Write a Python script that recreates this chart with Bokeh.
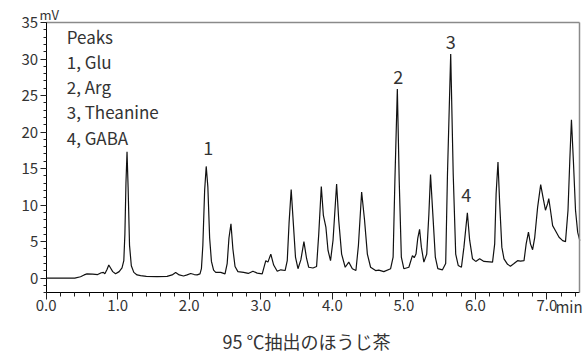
from bokeh.plotting import figure
from bokeh.models import Range1d, FixedTicker, Label, ColumnDataSource, LinearAxis
from bokeh.core.properties import value
from bokeh.embed import file_html
from bokeh.resources import INLINE

FONT = "Noto Sans CJK JP"
TEXT = "#333333"

# chromatogram trace (time in min, signal in mV)
time_min = [
    0.00, 0.40, 0.48, 0.53, 0.57, 0.65, 0.72, 0.77, 0.80, 0.82, 0.85, 0.875, 0.90, 0.93, 0.97,
    1.02, 1.06, 1.085, 1.10, 1.115, 1.13, 1.145, 1.165, 1.19, 1.225, 1.27, 1.32, 1.40, 1.55,
    1.69, 1.76, 1.81, 1.86, 1.92, 1.97, 2.02, 2.07, 2.11, 2.15, 2.17, 2.19, 2.215, 2.237, 2.26,
    2.285, 2.31, 2.34, 2.37, 2.44, 2.50, 2.53, 2.555, 2.583, 2.61, 2.64, 2.68, 2.76, 2.825, 2.89,
    2.95, 3.02, 3.07, 3.10, 3.14, 3.18, 3.23, 3.28, 3.34, 3.37, 3.395, 3.425, 3.455, 3.485, 3.52,
    3.56, 3.603, 3.64, 3.67, 3.73, 3.78, 3.81, 3.846, 3.875, 3.91, 3.94, 3.975, 4.01, 4.06, 4.09,
    4.13, 4.18, 4.23, 4.28, 4.33, 4.365, 4.41, 4.45, 4.49, 4.535, 4.605, 4.65, 4.72, 4.815, 4.85,
    4.875, 4.909, 4.935, 4.965, 5.00, 5.07, 5.12, 5.145, 5.17, 5.195, 5.22, 5.245, 5.28, 5.32,
    5.35, 5.373, 5.405, 5.44, 5.475, 5.54, 5.585, 5.61, 5.655, 5.69, 5.725, 5.76, 5.805, 5.84,
    5.888, 5.92, 5.96, 6.005, 6.06, 6.12, 6.24, 6.27, 6.29, 6.316, 6.34, 6.37, 6.40, 6.45, 6.49,
    6.54, 6.59, 6.63, 6.68, 6.71, 6.742, 6.77, 6.80, 6.83, 6.87, 6.913, 6.945, 6.98, 7.01, 7.026,
    7.05, 7.08, 7.12, 7.17, 7.22, 7.26, 7.295, 7.32, 7.343, 7.37, 7.40, 7.43, 7.46,
]
signal_mv = [
    0.0, 0.0, 0.2, 0.45, 0.6, 0.55, 0.5, 0.75, 0.8, 0.6, 1.2, 1.8, 1.4, 0.9, 0.6,
    0.9, 1.4, 2.4, 6.0, 13.0, 17.3, 12.5, 4.5, 1.7, 0.8, 0.45, 0.35, 0.25, 0.22,
    0.25, 0.45, 0.78, 0.45, 0.3, 0.45, 0.65, 0.5, 0.45, 0.6, 1.3, 4.5, 12.0, 15.3, 12.5,
    5.5, 2.3, 1.1, 0.8, 0.8, 0.6, 2.0, 5.5, 7.45, 4.0, 1.6, 0.9, 0.8, 0.65, 0.95,
    0.7, 0.6, 2.4, 2.2, 3.3, 1.8, 0.95, 1.15, 1.05, 2.4, 7.5, 12.15, 7.5, 2.9, 1.3,
    2.5, 5.0, 2.7, 1.5, 1.4, 1.6, 6.0, 12.55, 8.6, 7.0, 3.8, 2.4, 5.2, 12.9, 7.9,
    3.3, 1.5, 2.2, 1.3, 1.05, 4.5, 11.8, 8.0, 3.3, 1.5, 1.05, 1.1, 0.9, 1.3, 2.9,
    13.4, 25.9, 13.4, 2.9, 1.3, 1.5, 3.1, 2.8, 3.3, 5.5, 6.7, 4.25, 2.2, 3.3,
    8.8, 14.2, 8.8, 2.9, 1.3, 1.15, 2.0, 14.3, 30.7, 14.3, 3.3, 1.75, 1.5, 4.25,
    8.95, 5.2, 2.65, 2.3, 2.65, 2.3, 2.2, 4.7, 11.6, 15.9, 10.2, 4.25, 2.65, 1.9, 1.65,
    2.0, 2.4, 2.35, 2.4, 4.7, 6.3, 4.7, 3.9, 5.6, 9.7, 12.8, 11.1, 9.3, 10.2, 10.9,
    9.3, 7.2, 6.5, 5.6, 5.15, 5.0, 9.3, 16.1, 21.7, 16.1, 9.3, 6.3, 5.15,
]

# peak number annotations
peak_ids = ["1", "2", "3", "4"]
peak_label_x = [2.265, 4.92, 5.655, 5.872]
peak_label_y = [17.85, 27.5, 32.3, 11.35]

legend_lines = ["Peaks", "1, Glu", "2, Arg", "3, Theanine", "4, GABA"]

x_ticks = [0, 1, 2, 3, 4, 5, 6, 7]
x_tick_labels = ["0.0", "1.0", "2.0", "3.0", "4.0", "5.0", "6.0", "7.0"]
x_minor = [0.2 * i for i in range(38)]
y_ticks = [0, 5, 10, 15, 20, 25, 30, 35]
y_minor = list(range(-2, 36))

X_END = 7.46
Y_MIN, Y_MAX = -2, 35

title_text = "95 ℃抽出のほうじ茶"

# frame covers the whole canvas; axes are pinned inside it
p = figure(
    width=588, height=356,
    x_range=Range1d(-0.6389, 7.5815), y_range=Range1d(-10.717, 38.010),
    output_backend="svg", toolbar_location=None,
    min_border=0, min_border_left=0, min_border_right=0, min_border_top=0, min_border_bottom=0,
)
p.background_fill_color = "white"
p.border_fill_color = "white"
p.outline_line_color = None
p.xgrid.grid_line_color = None
p.ygrid.grid_line_color = None

xa = p.xaxis[0]
xa.fixed_location = Y_MIN
xa.bounds = (0, X_END)
xa.ticker = FixedTicker(ticks=x_ticks, minor_ticks=x_minor)
xa.major_label_overrides = {t: l for t, l in zip(x_ticks, x_tick_labels)}
xa.major_tick_in = 0
xa.major_tick_out = 7
xa.minor_tick_in = 0
xa.minor_tick_out = 4
xa.major_label_standoff = 0
ya = p.yaxis[0]
ya.fixed_location = 0
ya.bounds = (Y_MIN, Y_MAX)
ya.ticker = FixedTicker(ticks=y_ticks, minor_ticks=y_minor)
ya.major_tick_in = 0
ya.major_tick_out = 6
ya.minor_tick_in = 0
ya.minor_tick_out = 3
ya.major_label_standoff = 2
for ax in (xa, ya):
    ax.axis_line_color = "black"
    ax.major_tick_line_color = "#222222"
    ax.minor_tick_line_color = "#222222"
    ax.major_label_text_font = FONT
    ax.major_label_text_font_size = "15px"
    ax.major_label_text_color = TEXT

# grey frame on the top and right
right_edge = LinearAxis(fixed_location=X_END, bounds=(Y_MIN, Y_MAX), ticker=FixedTicker(ticks=[]),
                        axis_line_color="#8a8a8a", axis_line_width=1.5,
                        major_tick_line_color=None, minor_tick_line_color=None,
                        major_label_text_font_size="0px")
top_edge = LinearAxis(fixed_location=Y_MAX, bounds=(0, X_END), ticker=FixedTicker(ticks=[]),
                      axis_line_color="#8a8a8a", axis_line_width=1.5,
                      major_tick_line_color=None, minor_tick_line_color=None,
                      major_label_text_font_size="0px")
p.add_layout(right_edge, "right")
p.add_layout(top_edge, "above")

p.line(time_min, signal_mv, line_color="#111111", line_width=1.2)

src = ColumnDataSource(dict(x=peak_label_x, y=peak_label_y, t=peak_ids))
p.text(x="x", y="y", text="t", source=src, text_font=value(FONT), text_font_size="18px",
       text_color=TEXT, text_align="center", text_baseline="alphabetic")

# legend text block (top-left)
legend_offsets = [-13.8, -38.8, -64.1, -89.4, -114.7]
for line, off in zip(legend_lines, legend_offsets):
    p.add_layout(Label(x=0, y=Y_MAX, x_offset=20.5, y_offset=off, text=line,
                       text_font=FONT, text_font_size="17px", text_color=TEXT,
                       text_align="left", text_baseline="alphabetic"))

# unit labels
p.add_layout(Label(x=0, y=Y_MAX, x_offset=3, y_offset=7.5, text="mV", text_font=FONT,
                   text_font_size="13px", text_color=TEXT, text_align="center",
                   text_baseline="alphabetic"))
p.add_layout(Label(x=7, y=Y_MIN, x_offset=8.5, y_offset=-14.0, text="min", text_font=FONT,
                   text_font_size="15px", text_color=TEXT, text_align="left",
                   text_baseline="alphabetic"))

# caption
p.add_layout(Label(x=0, y=Y_MIN, x_offset=260.2, y_offset=-48.5, text=title_text, text_font=FONT,
                   text_font_size="18px", text_color=TEXT, text_align="center",
                   text_baseline="alphabetic"))

open("out.html", "w").write(file_html(p, INLINE))
